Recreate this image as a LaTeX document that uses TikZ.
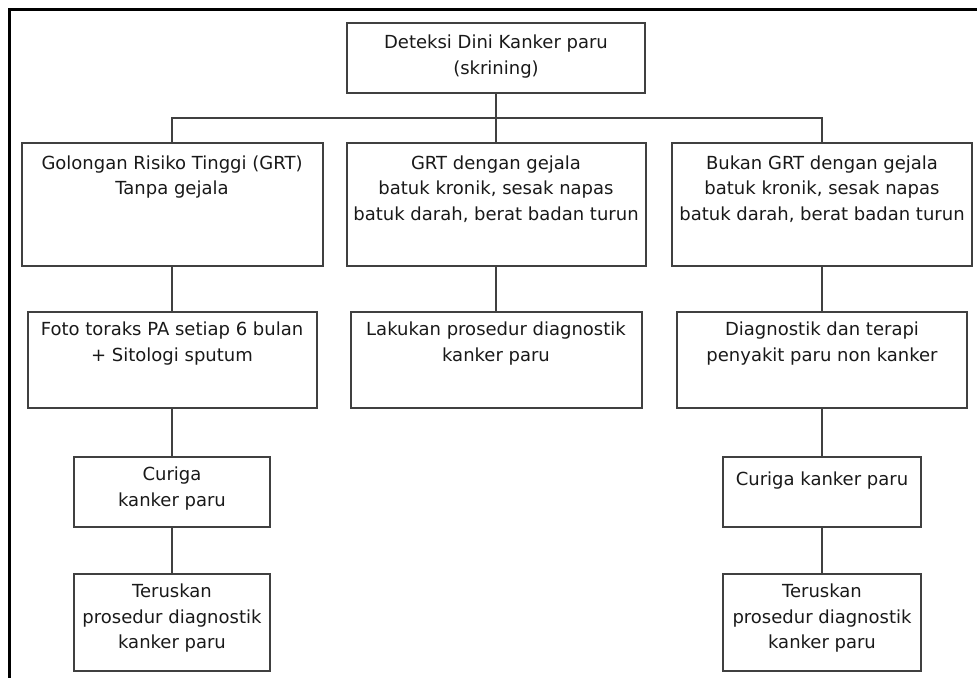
\documentclass[tikz,border=0pt]{standalone}
\usepackage{fontspec}
\setmainfont{DejaVu Sans}
\begin{document}
\begin{tikzpicture}[x=1pt,y=-1pt,
  box/.style={draw=black!75, line width=2pt, inner sep=0pt, outer sep=0pt},
  txt/.style={anchor=north, inner sep=0pt, align=center, text=black!90,
    font=\fontsize{18}{25.5}\selectfont, execute at begin node={\strut}},
  link/.style={draw=black!75, line width=2pt}]
\useasboundingbox (0,0) rectangle (977,678);

% frame edges
\draw[line width=2.2pt] (977,9.5) -- (9.5,9.5) -- (9.5,678);

% boxes (centre, size)
\node[box, minimum width=298pt, minimum height=70pt]  (top) at (496,58) {};
\node[box, minimum width=301pt, minimum height=123pt] (L1) at (172,204) {};
\node[box, minimum width=299pt, minimum height=123pt] (M1) at (496,204) {};
\node[box, minimum width=300pt, minimum height=123pt] (R1) at (822,204) {};
\node[box, minimum width=289pt, minimum height=96pt]  (L2) at (172,360) {};
\node[box, minimum width=291pt, minimum height=96pt]  (M2) at (496,360) {};
\node[box, minimum width=290pt, minimum height=96pt]  (R2) at (822,360) {};
\node[box, minimum width=196pt, minimum height=70pt]  (L3) at (172,492) {};
\node[box, minimum width=196pt, minimum height=97pt]  (L4) at (172,622.5) {};
\node[box, minimum width=198pt, minimum height=70pt]  (R3) at (822,492) {};
\node[box, minimum width=198pt, minimum height=97pt]  (R4) at (822,622.5) {};

% texts, set from the top of each box
\node[txt] at ([yshift=-12pt]top.north) {Deteksi Dini Kanker paru\\(skrining)};
\node[txt] at ([yshift=-13pt]L1.north) {Golongan Risiko Tinggi (GRT)\\Tanpa gejala};
\node[txt] at ([yshift=-13pt]M1.north) {GRT dengan gejala\\batuk kronik, sesak napas\\batuk darah, berat badan turun};
\node[txt] at ([yshift=-13pt]R1.north) {Bukan GRT dengan gejala\\batuk kronik, sesak napas\\batuk darah, berat badan turun};
\node[txt] at ([yshift=-10pt]L2.north) {Foto toraks PA setiap 6 bulan\\+ Sitologi sputum};
\node[txt] at ([yshift=-10pt]M2.north) {Lakukan prosedur diagnostik\\kanker paru};
\node[txt] at ([yshift=-10pt]R2.north) {Diagnostik dan terapi\\penyakit paru non kanker};
\node[txt] at ([yshift=-10pt]L3.north) {Curiga\\kanker paru};
\node[txt] at ([yshift=-10pt]L4.north) {Teruskan\\prosedur diagnostik\\kanker paru};
\node[txt] at ([yshift=-10pt]R3.north) {Curiga kanker paru};
\node[txt] at ([yshift=-10pt]R4.north) {Teruskan\\prosedur diagnostik\\kanker paru};

% connectors
\coordinate (bus) at (496,118);
\draw[link] (top.south) -- (M1.north);
\draw[link] (L1.north) |- (bus) -| (R1.north);
\draw[link] (L1.south) -- (L2.north);
\draw[link] (L2.south) -- (L3.north);
\draw[link] (L3.south) -- (L4.north);
\draw[link] (M1.south) -- (M2.north);
\draw[link] (R1.south) -- (R2.north);
\draw[link] (R2.south) -- (R3.north);
\draw[link] (R3.south) -- (R4.north);
\end{tikzpicture}
\end{document}
